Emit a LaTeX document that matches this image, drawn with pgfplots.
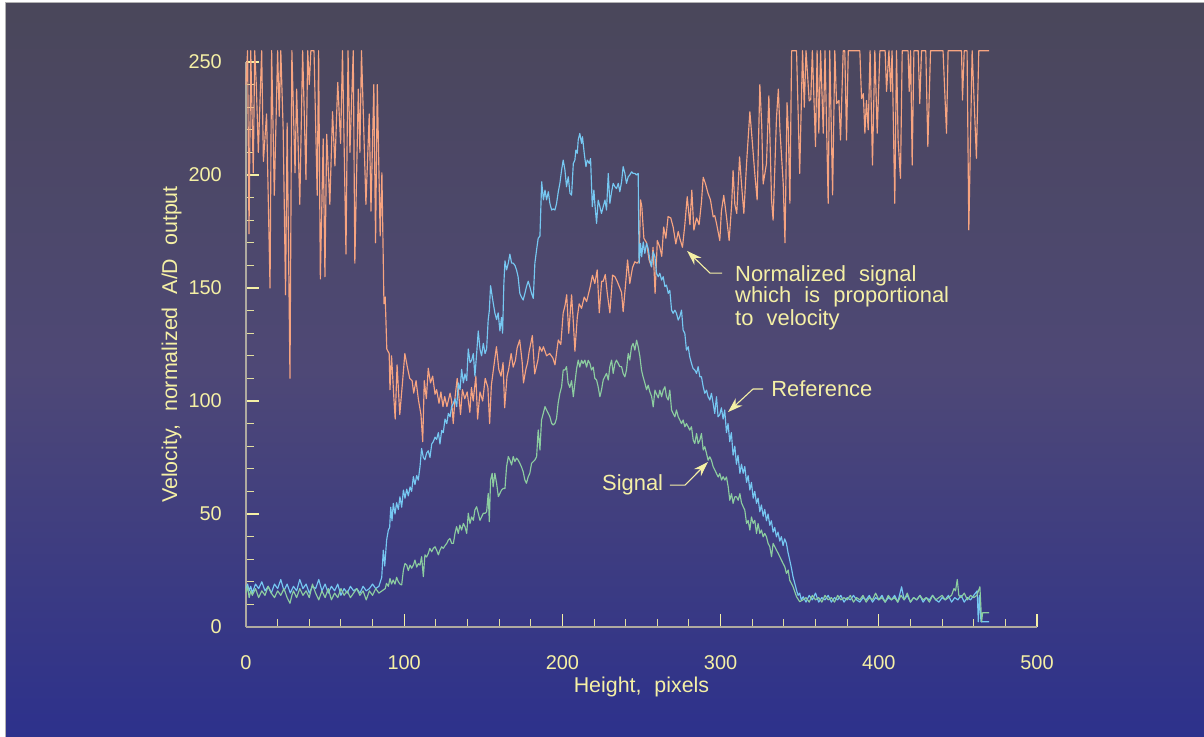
\documentclass[border=0pt]{standalone}
\usepackage{pgfplots}
\pgfplotsset{compat=1.18}
\usepackage{fontspec}
\setmainfont{Liberation Sans}
\usetikzlibrary{arrows.meta}
\definecolor{bgtop}{RGB}{74,71,90}
\definecolor{bgmid}{RGB}{78,72,118}
\definecolor{bgbot}{RGB}{45,49,140}
\definecolor{txt}{RGB}{245,240,165}
\definecolor{axl}{RGB}{175,170,160}
\definecolor{orn}{RGB}{247,164,128}
\definecolor{blu}{RGB}{118,200,242}
\definecolor{grn}{RGB}{140,205,160}
\newcommand{\ws}{\hspace{0.6em}}
\begin{document}
\begin{tikzpicture}
\useasboundingbox (0,0) rectangle (1204bp,737bp);
\fill[white] (0,0) rectangle (1204bp,737bp);
\shade[top color=bgtop, bottom color=bgbot, middle color=bgmid] (5bp,0) rectangle (1204bp,734bp);
\draw[gray!60, line width=1bp] (5.5bp,0) -- (5.5bp,734bp) -- (1204bp,734bp);
\begin{axis}[
  at={(246bp,110bp)}, anchor=south west,
  scale only axis, width=791bp, height=565bp,
  xmin=0, xmax=500, ymin=0, ymax=250,
  axis lines*=left, clip=false,
  axis line style={color=axl, line width=1.2bp},
  xtick={0,100,...,500}, minor xtick={20,40,60,80,120,140,160,180,220,240,260,280,320,340,360,380,420,440,460,480},
  ytick={0,50,...,250}, minor ytick={10,20,30,40,60,70,80,90,110,120,130,140,160,170,180,190,210,220,230,240},
  tick align=inside,
  major tick length=13bp, minor tick length=8bp,
  major tick style={color=txt, line width=1.1bp},
  minor tick style={color=txt!85!gray, line width=1bp},
  /pgf/number format/assume math mode=true,
  tick label style={font=\fontsize{20}{24}\selectfont, color=txt, inner sep=0pt},
  xticklabel style={anchor=base, yshift=-42bp},
  yticklabel style={anchor=east, xshift=-24bp},
  xlabel={Height,\ws pixels},
  ylabel={Velocity,\ws normalized\ws A/D\ws output},
  label style={font=\fontsize{21.5}{25}\selectfont, color=txt, inner sep=0pt},
  xlabel style={at={(axis description cs:0.5,-0.1168)}, anchor=base},
  ylabel style={at={(axis description cs:-0.0872,0.5)}, anchor=base},
  every axis plot/.append style={line width=1.15bp, line join=round},
]
% Normalized signal (orange)
\addplot[orn] coordinates {
(0,240)(1,255)(1.9,174)(3,255)(4.6,201)(5.5,255)(6.5,240)(7.8,210)(9.9,255)(11,206)(13,227)(15.2,150)(16.2,255)(17.9,191)(20,255)(21,226)(22,255)(23.5,220)(25,147)(26,223)(27.8,110)(29,255)(31,201)(32,238)(34,187)(35.8,255)(37.9,198)(39,255)(40,240)(41,255)(43,255)(45,191)(45.9,255)(47,154)(48.8,216)(49.9,155)(51,218)(53,187)(54.7,228)(56.2,204)(58,241)(59.8,214)(61,255)(63.2,165)(64.5,255)(65.7,210)(67.8,255)(68.8,161)(71,238)(72,210)(73,255)(75.8,187)(77.9,227)(79,184)(80.8,240)(81.9,170)(83,240)(84.8,173)(85.9,201)(87.2,143)(88,146)(89,123)(90.5,121)(91,105)(92,120)(93.5,101)(94.3,92)(95.5,116)(97.2,94)(98.9,108)(100.4,121)(102,115)(103.5,110)(105,109)(106,103.5)(107.5,109)(109,100.5)(110.6,94)(111.7,82)(112.7,109)(114,101)(115.2,114.5)(116.6,108)(118,111)(119.5,103)(120.5,105)(122,99)(123.2,104)(124.5,97.5)(125.6,102)(127,97.5)(129,103.5)(130,100)(131,90)(132.2,102)(133.5,110)(134.6,102)(135.6,94)(136.8,105)(138.3,101)(139.8,104)(141.5,95)(142.5,106)(143.6,100)(145.3,111)(146.4,92)(147.9,104)(149.6,100)(151.2,110)(152.9,106)(154,90)(155.1,107)(156.6,115)(158.3,124)(159.8,114)(161.2,111)(162.5,117)(163.5,97)(165,111)(166,114)(167.6,121)(168.9,115)(170.3,118)(171.4,123.5)(173,127)(174.6,117)(175.4,108)(176.9,114)(178,117)(179,122)(181,129)(182.5,112)(183.5,115)(184.5,118)(185.6,124)(187,122)(188,124)(190,120)(192,121)(194,119)(195.3,116)(197.4,127)(199,125)(200.5,139)(201.6,142)(202.7,147)(204,130)(205.8,147)(206.9,135)(207.9,122)(209.4,137)(210.6,143)(212.1,141)(213.8,146)(215.3,144)(217.4,150)(219,155.6)(220.5,152)(222,158)(223.3,139)(224.8,153)(225.8,153)(227.1,156)(228.3,148)(230,139)(231.7,155.7)(233.2,155)(234.6,153)(236.3,150)(237.4,148)(238.4,139.5)(240.1,153)(241.2,162.4)(242.6,152)(244.3,159)(245.8,161.6)(247.2,161)(248.5,162)(249.4,189)(250.2,186)(251.5,172)(253.2,170)(254.8,162.4)(256.3,159.4)(257.3,168)(258.6,147.6)(260,171)(261.6,168)(262.8,164)(264,177)(265.4,172)(266.8,181.6)(268.5,181)(270,177)(271.7,169.5)(273.2,175)(274.2,172)(275.9,168)(277.4,178)(278.9,190.4)(280.6,178)(281.8,193.3)(283.1,175.6)(284.8,181)(286.4,178)(287.9,188)(289,199)(290.5,196)(292,192)(293.6,189)(295.3,181.5)(296.3,182)(297.4,178.6)(299.5,171)(300.5,184)(302,191)(303.8,181)(305.4,171)(307,187)(307.9,202)(309,187)(310.2,183)(312,208)(313.2,196)(314.7,183)(316.4,205)(318.5,228)(320,215)(321.6,200.7)(323.1,189)(324.8,240)(326,222)(326.9,196)(329,205)(330.5,235)(332.2,189)(333.2,180)(335.3,225)(336.5,238)(337.5,220)(339.6,196)(340.7,170)(342,232)(342.8,220)(343.8,187.5)(344.9,255)(348,255)(350,200.7)(351.8,255)(352.9,230)(354,255)(356,232.8)(357,233.5)(358,255)(360,212.6)(361,255)(362.1,218.5)(363.2,255)(364.9,218.5)(366,255)(368,187.5)(369,255)(370.8,191.2)(372.2,255)(373.3,231.6)(374.8,233)(375.8,215.5)(377.5,255)(378.5,255)(379.6,215.5)(380.7,255)(388,255)(389.1,233.8)(390.2,236)(391.2,218.5)(392.2,233)(393.3,220)(394.5,255)(396,204.4)(397.5,255)(399,218.5)(400.7,255)(404,255)(404.9,237)(406.4,255)(407.5,237)(408.4,255)(410.1,187.5)(411.2,255)(412.2,215.5)(413.7,198.5)(414.8,255)(418.5,255)(419.2,237)(420.1,255)(421.1,204.4)(422.2,255)(424.9,255)(425.9,231.6)(427,255)(429.7,255)(431,212.6)(432.7,255)(440.6,255)(442.8,218.5)(443.8,255)(452.3,255)(452.9,233.2)(454,255)(455.8,255)(456.9,175.7)(459,255)(461.7,207.4)(463.2,255)(469.7,255)
};
% Reference (blue)
\addplot[blu] coordinates {
(0,17)(1,19)(2,16)(3,18)(4,15)(6,19)(8,17)(10,20)(12,16)(14,18)(16,15)(18,19)(20,17)(22,21)(24,16)(26,19)(28,15)(30,18)(32,16)(34,21)(36,17)(38,19)(40,15)(42,18)(44,17)(46,21)(48,16)(50,19)(52,15)(54,18)(56,16)(58,19)(60,14)(62,17)(64,15)(66,18)(68,16)(70,17)(72,15)(74,18)(76,16)(78,17)(80,19)(82,17)(84,18)(85.8,22)(86.8,34)(87.7,27)(88.9,38.5)(90,43)(90.8,44)(91.5,53)(92.3,47)(93.1,54.7)(94.2,50)(95.2,55)(96.3,52)(97.3,57.6)(98.4,53)(99.5,60.6)(100.5,57)(101.6,61)(102.6,58)(103.7,62)(104.7,60)(105.8,66.5)(106.8,63)(107.9,67)(108.9,65)(110,71)(111,79)(112.1,75)(113.1,74)(114.2,77)(115.2,78)(116.3,75)(117.4,81)(118.4,82)(119.5,84)(120.5,83)(121.6,86)(122.6,81)(123.7,87)(124.7,86)(125.8,92)(126.9,90)(127.9,94.5)(129,93)(130,97.5)(131.1,99)(132.1,101)(133.2,97.5)(134.2,108)(135.3,105)(136.3,114)(137.4,108)(138.4,112)(139.5,109)(140.5,123)(141.6,117)(142.6,118)(143.7,121)(144.7,111)(145.8,121)(146.8,131)(147.9,123)(148.9,120)(150,125.5)(151.1,121)(152.1,123)(153.1,136)(153.8,140)(154.6,151)(155.9,145)(157.3,139)(158.4,136)(159.4,139)(160.5,131)(161.5,137)(162.2,130)(163,152)(163.7,162)(164.7,158)(165.8,161)(166.8,165)(167.9,161)(168.9,161)(170,160)(171,158)(172,155)(173.1,147.6)(174.1,146)(175.2,144.7)(176.3,147.6)(177.3,150.6)(178.4,153)(179.4,150.6)(180.5,147.6)(181.6,145.4)(182.6,161)(183.7,167)(184.7,172)(185.8,173)(186.9,197)(188,189)(189,193.3)(190,189)(191.1,192.6)(192.1,187.4)(193.2,184.5)(194.2,185)(195.3,184.5)(196.3,187.4)(197.4,192.6)(198.4,196.3)(199.5,202.2)(200.5,206.6)(201.6,202.2)(202.6,194.8)(203.7,199.2)(204.8,191.9)(205.8,191.1)(206.9,205.1)(207.9,206.6)(208.5,211)(209.4,209.6)(210,215.5)(211,218.4)(212.1,214)(212.7,216.9)(213.8,209.6)(214.9,203.7)(215.7,206.6)(217,205.1)(217.8,207.3)(218.9,186)(219.9,193.3)(220.5,187.4)(221.6,178.6)(222.6,188.9)(223.7,186)(224.7,183)(225.8,186)(226.9,188.9)(227.9,184.5)(229,200.7)(230,187.4)(231.1,192.6)(232.1,196.3)(233.2,194.8)(234.2,194)(235.3,196.3)(236.3,192.6)(237.4,197)(238.4,203.7)(239.5,200.7)(240.5,196.3)(241.6,199.2)(242.6,200)(243.7,201.4)(244.7,200.7)(245.8,200.7)(246.8,200)(247.9,200.7)(248.5,160.9)(249.4,169.7)(250.1,163.8)(251.1,170.4)(252.1,165.3)(253.2,169.7)(254.2,167.5)(255.3,162.4)(256.3,159.4)(257.4,166)(258.5,163.8)(259.5,156.5)(260.6,155)(261.6,156.5)(262.7,153.5)(263.7,155)(264.8,150.6)(265.8,151.3)(266.9,147.6)(267.9,149)(269,140.2)(270,138.8)(271.1,140.2)(272.1,138.8)(273.2,135.8)(274.2,137.3)(275.3,140.2)(276.3,131.4)(277.4,129.9)(278.4,122.5)(279.5,124)(280.5,119.6)(281.6,116.6)(282.6,114.4)(283.7,113.7)(284.8,112.2)(285.8,115.2)(286.9,110.7)(287.9,110.7)(289,106.3)(290,103.4)(291.1,104.8)(292.1,101.9)(293.2,100.4)(294.2,103.4)(295.3,98.9)(296.3,94.5)(297.4,101.9)(298.4,93)(299.5,94)(300.5,97)(301.6,92)(302.6,96)(303.7,86)(304.7,90)(305.8,82)(306.8,86)(307.9,76)(309,80)(310,72)(311,76)(312.2,68)(313.2,72)(314.3,68)(315.3,71)(316.4,64)(317.4,67)(318.5,60.6)(319.5,64)(320.6,57)(321.6,60)(322.7,54.7)(323.7,57)(324.8,51)(325.8,54)(326.9,49)(327.9,52)(329,47)(330,50)(331.1,45)(332.1,47)(333.2,42)(334.2,44)(335.3,39.9)(336.3,42)(337.4,38)(338.4,40)(339.5,36)(340.5,39)(341.6,37)(342.6,33)(343.7,29.6)(344.8,26)(345.8,22.2)(346.9,19.3)(348,16.3)(349,14)(350,15)(351,12)(352.2,13.4)(354,11)(356,14)(358,12)(360,15)(362,11)(364,13)(366,12)(368,14)(370,11)(372,13)(374,12)(376,14)(378,11)(380,13)(382,12)(384,14)(386,12)(388,11)(390,13)(392,12)(394,14)(396,11)(398,13)(400,12)(402,14)(404,11)(406,13)(408,12)(410,14)(412,11)(414.4,17.8)(416,12)(418,14)(420,11)(422,13)(424,12)(426,14)(428,11)(430,13)(432,12)(434,14)(436,12)(438,11)(440,13)(442,12)(444,14)(446,11)(448,13)(450,12)(452,14)(454,11)(456,13)(458,12)(460,14)(462.2,16)(462.9,2.3)(463.6,14)(464.6,2.3)(469.8,2.3)
};
% Signal (green)
\addplot[grn] coordinates {
(0,15)(1,18)(2,13)(3,16)(4,14)(6,17)(8,13)(10,16)(12,14)(14,18)(16,15)(18,13)(20,16)(22,14)(24,17)(26,13)(27.8,10.5)(29,14)(30,16)(32,13)(34,17)(36,14)(38,16)(40,13)(42,19)(44,15)(46,12)(48,16)(50,13)(52,17)(54,12)(56,15)(58,13)(60,17)(62,14)(64,16)(66,13)(68,15)(70,17)(72,14)(74,16)(76,12)(78,16)(80,14)(82,17)(84,15)(86,16)(88,17)(88.8,19.3)(90,18)(91,21.5)(92,19)(93,20.8)(94.2,19)(95.2,22)(96.3,20)(97.3,19)(98.4,18.6)(99.5,25.2)(100.5,28.1)(101.6,27.4)(102.6,25)(103.7,27.4)(104.7,26)(105.8,27.4)(106.8,29.6)(107.9,26.5)(108.9,28)(110,27.4)(111,31.1)(112.1,22.3)(113.1,31.9)(114.2,31)(115.2,32.5)(116.2,34.8)(117.4,33.3)(118.4,34.8)(119.5,35.5)(120.5,34)(121.6,31.9)(122.6,34)(123.7,35.5)(124.7,34.8)(125.8,36)(126.9,37)(127.9,38.5)(128.9,39.2)(130,37)(131.1,37)(132.1,41.4)(133.1,44.4)(134.2,41.4)(135.2,45.1)(136.3,42.9)(137.4,45.8)(138.4,44.4)(139.5,41.4)(140.5,50.3)(141.6,45.8)(142.6,48.7)(143.7,47.2)(144.7,51.8)(145.8,53.2)(146.8,50.3)(147.9,47.2)(148.9,48.7)(150,50.3)(151.1,50.3)(152.1,51)(153.1,59.1)(153.8,46.6)(154.6,65)(155.6,68)(156.2,62)(157.3,68)(158.4,63.6)(159.5,57.7)(160.5,59.1)(161.5,60.6)(162.6,61.3)(163.7,61.3)(164.7,70.9)(165.8,75.4)(166.8,73.9)(167.9,71.7)(168.9,75.4)(170,73.2)(171,74.7)(172,73.9)(173.1,72.4)(174.1,70.9)(175.2,68.7)(176.3,65)(177.3,63.6)(178.4,66.5)(179.4,68)(180.5,72.4)(181.6,73.2)(182.6,73.9)(183.7,75.4)(184.7,87.2)(185.8,78.3)(186.8,91.6)(187.9,94.5)(189,97.5)(190,96)(191.1,94.5)(192.1,93)(193.2,90.1)(194.2,89.4)(195.3,90.1)(196.3,92.3)(197.3,99)(198.4,103.4)(199.5,106.3)(200.5,113.7)(201.6,113.7)(202.6,115.2)(203.6,108)(204.7,106)(205.8,109)(206.9,101.9)(207.9,108)(209,114.4)(210,118.1)(211,115)(212.1,118)(213.1,116.6)(214.2,118.1)(215.3,115)(216.3,118)(217.4,116.6)(218.4,113.7)(219.5,115)(220.5,110)(221.6,109.3)(222.6,106.3)(223.7,101.9)(224.7,104.8)(225.8,109.3)(226.8,110.7)(227.9,112.2)(229,109.3)(230,115.2)(231.1,118.1)(232.1,112.2)(233.2,116.6)(234.2,118.1)(235.3,116.6)(236.3,115.2)(237.4,115.2)(238.4,112.2)(239.5,110.7)(240.5,113.7)(241.6,121)(242.6,118.1)(243.7,124)(244.7,125.5)(245.8,122.5)(246.9,126.9)(247.9,124)(249,119.6)(250,113.7)(251,110.7)(252.1,108)(253.2,105)(254.2,107)(255.3,104)(256.4,102)(257.4,97.4)(258.5,104.8)(259.5,103)(260.6,101.4)(261.6,104.8)(262.7,101.9)(263.7,104.8)(264.8,106.3)(265.8,101.9)(266.9,100.4)(267.9,104.8)(269,96)(270,94.5)(271.1,93)(272.1,96)(273.2,93)(274.2,91.6)(275.3,90)(276.3,91.6)(277.4,88.6)(278.4,90)(279.5,88.6)(280.5,87.1)(281.6,88.6)(282.7,82.7)(283.7,81.2)(284.8,85.6)(285.8,81.2)(286.9,82.7)(287.9,85.6)(289,78.3)(290,79.8)(291.1,76.8)(292.1,73.8)(293.2,75.3)(294.2,73.8)(295.3,70.9)(296.4,69.4)(297.4,67.9)(298.5,66.4)(299.5,67.9)(300.6,65)(301.6,66.5)(302.7,65)(303.7,66.4)(304.8,62)(305.8,56.1)(306.9,59)(307.9,54.7)(309,57.6)(310,57.6)(311.1,56.1)(312.2,59)(313.2,55)(314.3,53.2)(315.3,51.7)(316.4,45.8)(317.4,47.2)(318.5,42.9)(319.5,48.7)(320.6,45.8)(321.6,47.2)(322.7,41.4)(323.7,45.8)(324.8,41.4)(325.8,42.9)(326.9,39.9)(327.9,41.4)(329,39.9)(330,37)(331.1,35.5)(332.2,31.1)(333.2,37)(334.3,35.5)(335.3,34)(336.4,32.6)(337.4,31.1)(339.5,28.1)(340.6,26.6)(341.6,23.7)(342.7,25.2)(343.7,20.7)(345.8,17.8)(348,13.4)(350,11.2)(352,12)(354,13)(356,11)(358,14)(360,12)(362,13)(364,11)(366,14)(368,12)(370,13)(372,11)(374,14)(376,12)(378,13)(380,12)(382,14)(384,11)(386,13)(388,12)(390,14)(392,11)(394,13)(396,12)(398,15)(400,12)(402,13)(404,11)(406,14)(408,12)(410,13)(412,11)(414,14)(416,12)(418,15)(420,11)(422,13)(424,12)(426,14)(428,12)(430,13)(432,11)(434,14)(436,12)(438,13)(440,14)(442,12)(444,13)(446,14)(447.5,17)(448.5,16)(449.6,21)(450.6,14)(452,13)(454,15)(456,12)(458,14)(460,13)(462,14)(463.9,17.8)(465,2.3)(465.6,6.3)(469.8,6.3)
};
% annotations
\node[font=\fontsize{22}{26}\selectfont, text=txt, inner sep=0pt, anchor=base west] at (axis cs:309.1,152.8) {Normalized\ws signal};
\node[font=\fontsize{22}{26}\selectfont, text=txt, inner sep=0pt, anchor=base west] at (axis cs:309.1,143.4) {which\ws is\ws proportional};
\node[font=\fontsize{22}{26}\selectfont, text=txt, inner sep=0pt, anchor=base west] at (axis cs:309.1,133.6) {to\ws velocity};
\node[font=\fontsize{22}{26}\selectfont, text=txt, inner sep=0pt, anchor=base west] at (axis cs:331.9,101.9) {Reference};
\node[font=\fontsize{22}{26}\selectfont, text=txt, inner sep=0pt, anchor=base west] at (axis cs:225.0,60.2) {Signal};
\draw[txt, line width=1.1bp, -{Stealth[length=15bp,width=10bp]}] (axis cs:300.9,156.6) -- (axis cs:293.3,156.6) -- (axis cs:278.8,166.4);
\draw[txt, line width=1.1bp, -{Stealth[length=15bp,width=10bp]}] (axis cs:326.8,105.3) -- (axis cs:320.5,105.3) -- (axis cs:304.7,95.1);
\draw[txt, line width=1.1bp, -{Stealth[length=15bp,width=10bp]}] (axis cs:268.0,62.8) -- (axis cs:277.5,62.8) -- (axis cs:292.0,73.0);
\end{axis}
\end{tikzpicture}
\end{document}
